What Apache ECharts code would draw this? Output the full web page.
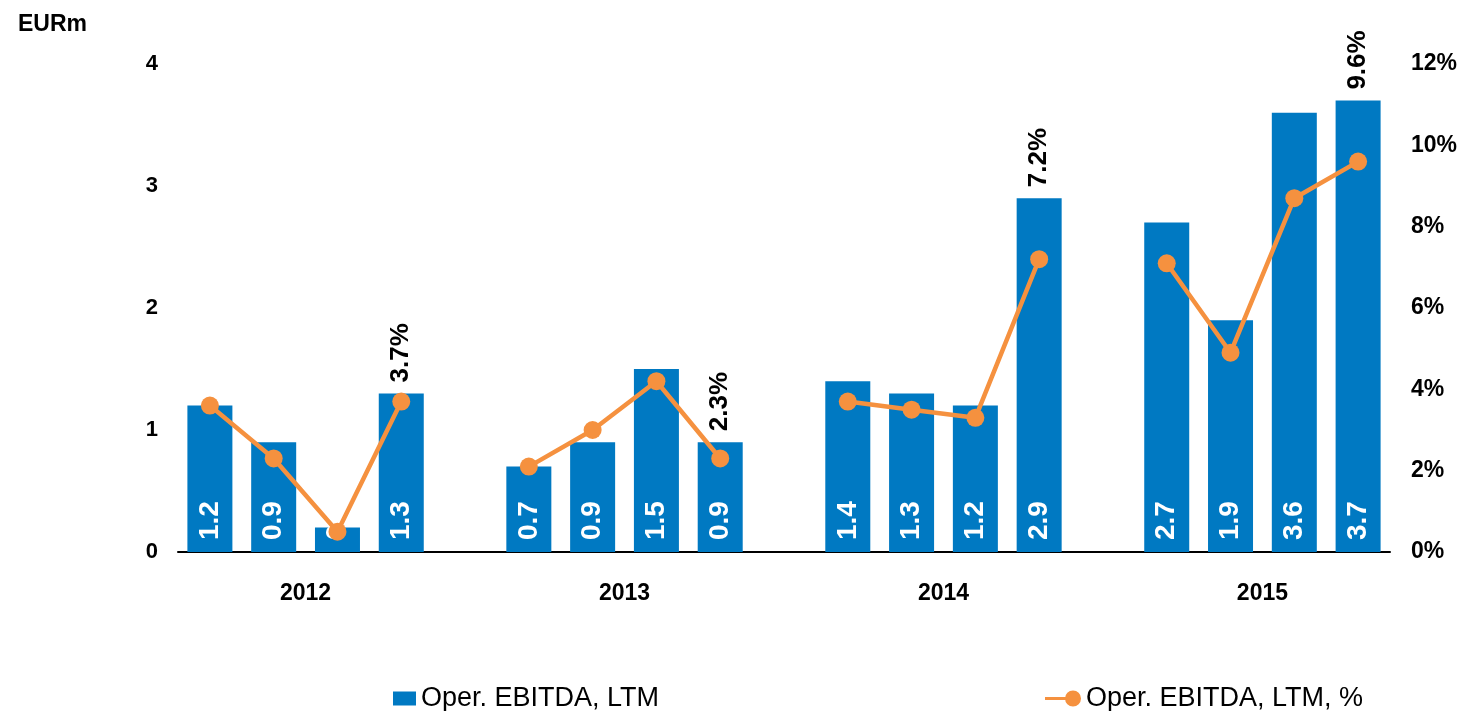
<!DOCTYPE html>
<html>
<head>
<meta charset="utf-8">
<title>Oper. EBITDA, LTM</title>
<script src="https://cdn.jsdelivr.net/npm/echarts@6/dist/echarts.min.js"></script>
<style>
  html, body { margin: 0; padding: 0; background: #fff; }
  #chart { width: 1463px; height: 711px; }
</style>
</head>
<body>
<div id="chart"></div>
<script>
// Quarterly LTM operating EBITDA (EURm) and margin (%), grouped by year
const years = ['2012', '2013', '2014', '2015'];
const quartersPerYear = 4;
const ebitda = [1.2, 0.9, 0.2, 1.3, 0.7, 0.9, 1.5, 0.9, 1.4, 1.3, 1.2, 2.9, 2.7, 1.9, 3.6, 3.7];
const margin = [3.6, 2.3, 0.5, 3.7, 2.1, 3.0, 4.2, 2.3, 3.7, 3.5, 3.3, 7.2, 7.1, 4.9, 8.7, 9.6];
const leftTicks = { min: 0, max: 4, interval: 1 };
const rightTicks = { min: 0, max: 12, interval: 2 };

const FONT = 'Liberation Sans, Arial, sans-serif';
const BLUE = '#0079c2';
const ORANGE = '#f5913f';

// Build slot arrays: four quarters per year, one empty slot between years
const slots = [], barData = [], lineData = [], endLabelData = [];
years.forEach((y, yi) => {
  if (yi > 0) {
    slots.push('gap' + yi);
    barData.push(null); lineData.push(null); endLabelData.push(null);
  }
  for (let q = 0; q < quartersPerYear; q++) {
    const i = yi * quartersPerYear + q;
    slots.push(y + ' Q' + (q + 1));
    barData.push(ebitda[i]);
    lineData.push(margin[i]);
    endLabelData.push(q === quartersPerYear - 1 ? { value: ebitda[i], pct: margin[i] } : null);
  }
});

// Year axis: slot edges, year label at the middle edge of each group
const edges = [];
for (let k = 0; k <= slots.length; k++) edges.push('');
years.forEach((y, yi) => { edges[yi * (quartersPerYear + 1) + quartersPerYear / 2] = y; });

// Legend marker for the margin line: short line ending in a dot
const LINE_ICON = 'path://M0,6.5 H26 V9.5 H0 Z M28,0 A8,8 0 1,1 28,16 A8,8 0 1,1 28,0 Z';

const chart = echarts.init(document.getElementById('chart'), null, { renderer: 'canvas' });
chart.setOption({
  backgroundColor: '#ffffff',
  animation: false,
  textStyle: { fontFamily: FONT },
  title: {
    text: 'EURm', left: 13, top: 8,
    textStyle: { fontFamily: FONT, fontSize: 23, fontWeight: 'bold', color: '#000' }
  },
  grid: { left: 178, right: 73, top: 64, bottom: 159 },
  legend: [
    {
      data: [{ name: 'Oper. EBITDA, LTM', icon: 'rect' }], left: 388, top: 680,
      itemWidth: 23, itemHeight: 14, itemGap: 8,
      textStyle: { fontFamily: FONT, fontSize: 27, color: '#000' }
    },
    {
      data: [{ name: 'Oper. EBITDA, LTM, %', icon: LINE_ICON }], left: 1040, top: 680,
      itemWidth: 36, itemHeight: 16, itemGap: 8,
      textStyle: { fontFamily: FONT, fontSize: 27, color: '#000' }
    }
  ],
  xAxis: [
    {
      type: 'category', data: slots, position: 'bottom',
      axisLine: { show: true, lineStyle: { color: '#000', width: 2 } },
      axisTick: { show: false }, axisLabel: { show: false }, splitLine: { show: false }
    },
    {
      type: 'category', data: edges, position: 'bottom', boundaryGap: false,
      axisLine: { show: false }, axisTick: { show: false }, splitLine: { show: false },
      axisLabel: {
        interval: 0, margin: 30,
        fontFamily: FONT, fontSize: 23, fontWeight: 'bold', color: '#000'
      }
    }
  ],
  yAxis: [
    {
      type: 'value', min: leftTicks.min, max: leftTicks.max, interval: leftTicks.interval,
      axisLine: { show: false }, axisTick: { show: false }, splitLine: { show: false },
      axisLabel: { margin: 20, fontFamily: FONT, fontSize: 22, fontWeight: 'bold', color: '#000' }
    },
    {
      type: 'value', min: rightTicks.min, max: rightTicks.max, interval: rightTicks.interval,
      position: 'right',
      axisLine: { show: false }, axisTick: { show: false }, splitLine: { show: false },
      axisLabel: {
        margin: 21, formatter: '{value}%',
        fontFamily: FONT, fontSize: 23, fontWeight: 'bold', color: '#000'
      }
    }
  ],
  series: [
    {
      name: 'Oper. EBITDA, LTM', type: 'bar', xAxisIndex: 0, yAxisIndex: 0,
      data: barData, barWidth: 45, itemStyle: { color: BLUE }, z: 2,
      label: {
        show: true, position: 'insideBottom', rotate: 90, distance: 12,
        align: 'left', verticalAlign: 'middle',
        formatter: p => p.value.toFixed(1),
        fontFamily: 'Liberation Sans Narrow, ' + FONT, fontSize: 28, fontWeight: 'bold', color: '#fff'
      }
    },
    {
      name: 'Oper. EBITDA, LTM, %', type: 'line', xAxisIndex: 0, yAxisIndex: 1,
      data: lineData, connectNulls: false, z: 5,
      symbol: 'circle', symbolSize: 18,
      lineStyle: { color: ORANGE, width: 4.5 },
      itemStyle: { color: ORANGE }
    },
    {
      // year-end margin labels placed above the Q4 bar
      name: 'year-end margin', type: 'scatter', xAxisIndex: 0, yAxisIndex: 0,
      data: endLabelData, symbolSize: 0, silent: true, z: 6,
      itemStyle: { opacity: 1, color: '#000' },
      label: {
        show: true, position: 'top', rotate: 90, distance: 11,
        align: 'left', verticalAlign: 'middle',
        formatter: p => p.data.pct.toFixed(1) + '%',
        fontFamily: FONT, fontSize: 26, fontWeight: 'bold', color: '#000'
      }
    }
  ]
});
</script>
</body>
</html>
